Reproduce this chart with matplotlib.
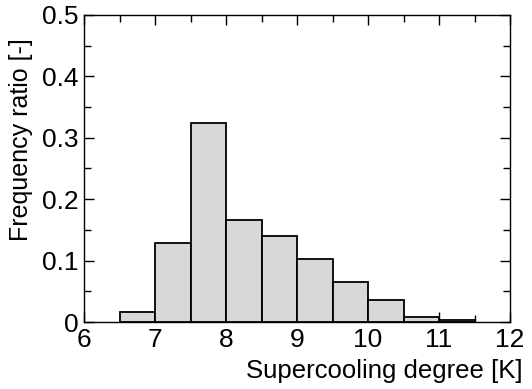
import matplotlib
matplotlib.use("Agg")
import matplotlib.pyplot as plt
from matplotlib.ticker import MultipleLocator

plt.rcParams['font.family'] = ['Liberation Sans', 'DejaVu Sans']

bin_left = [6.5, 7.0, 7.5, 8.0, 8.5, 9.0, 9.5, 10.0, 10.5, 11.0]
freq = [0.016, 0.128, 0.324, 0.166, 0.140, 0.103, 0.065, 0.036, 0.008, 0.003]
bin_width = 0.5

fig = plt.figure(figsize=(5.32, 3.89), dpi=100)
ax = fig.add_axes([84/532, 1-322/389, (510-84)/532, (322-15)/389])

ax.bar(bin_left, freq, width=bin_width, align='edge', color='#d8d8d8',
       edgecolor='black', linewidth=1.3, zorder=2)

ax.set_xlim(6, 12)
ax.set_ylim(0, 0.5)
ax.xaxis.set_major_locator(MultipleLocator(1))
ax.xaxis.set_minor_locator(MultipleLocator(0.5))
ax.yaxis.set_major_locator(MultipleLocator(0.1))
ax.yaxis.set_minor_locator(MultipleLocator(0.05))
ax.set_yticks([0, 0.1, 0.2, 0.3, 0.4, 0.5])
ax.set_yticklabels(['0', '0.1', '0.2', '0.3', '0.4', '0.5'])

ax.tick_params(which='both', direction='in', top=True, right=True, labelsize=19, width=1, zorder=3)
ax.tick_params(which='major', length=7)
ax.tick_params(which='minor', length=5)
ax.tick_params(axis='x', pad=4)
ax.tick_params(axis='y', pad=4)
for s in ax.spines.values():
    s.set_linewidth(1.0)
    s.set_zorder(3)

ax.set_xlabel('Supercooling degree [K]', fontsize=18.5, ha='right')
ax.xaxis.set_label_coords(1.03, -0.12)
ax.set_ylabel('Frequency ratio [-]', fontsize=18)
ax.yaxis.set_label_coords(-0.12, 0.595)

fig.savefig('out.png', dpi=100)
